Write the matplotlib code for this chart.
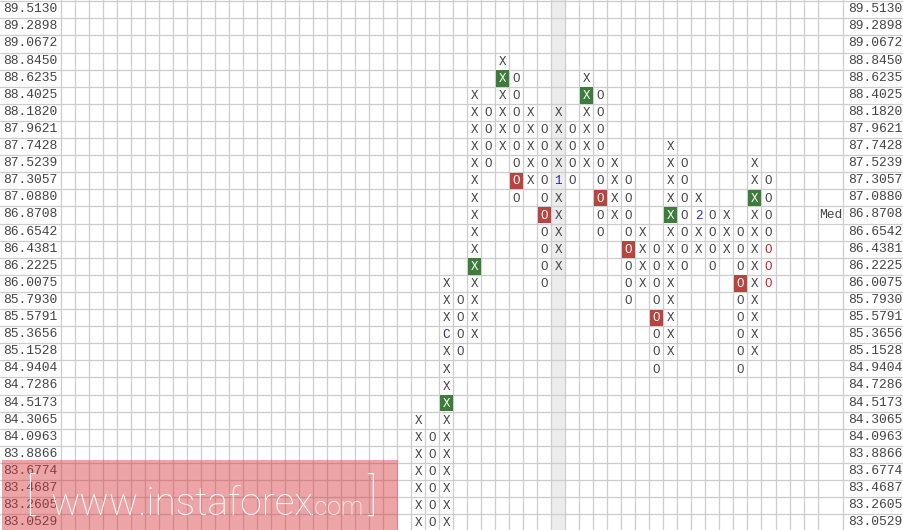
import matplotlib
matplotlib.use("Agg")
import matplotlib.pyplot as plt
from matplotlib.patches import Rectangle

# ---------------- data ----------------
levels = [89.5130, 89.2898, 89.0672, 88.8450, 88.6235, 88.4025, 88.1820, 87.9621,
          87.7428, 87.5239, 87.3057, 87.0880, 86.8708, 86.6542, 86.4381, 86.2225,
          86.0075, 85.7930, 85.5791, 85.3656, 85.1528, 84.9404, 84.7286, 84.5173,
          84.3065, 84.0963, 83.8866, 83.6774, 83.4687, 83.2605, 83.0529]

col_index = list(range(25, 51))
col_type = ['X', 'O', 'X', 'O', 'X', 'O', 'X', 'O', 'X', 'O', 'X', 'O', 'X',
            'O', 'X', 'O', 'X', 'O', 'X', 'O', 'X', 'O', 'X', 'O', 'X', 'O']
col_top = [84.3065, 84.0963, 86.0075, 85.7930, 88.4025, 88.1820, 88.8450, 88.6235,
           88.1820, 87.9621, 88.1820, 87.9621, 88.6235, 88.4025, 87.5239, 87.3057,
           86.6542, 86.4381, 87.7428, 87.5239, 87.0880, 86.8708, 86.8708, 86.6542,
           87.5239, 87.3057]
col_bottom = [83.0529, 83.0529, 83.0529, 85.1528, 85.3656, 87.5239, 87.7428, 87.0880,
              87.3057, 86.0075, 86.2225, 87.3057, 87.5239, 86.6542, 86.8708, 85.7930,
              86.0075, 84.9404, 85.1528, 86.2225, 86.4381, 86.2225, 86.4381, 84.9404,
              85.1528, 86.0075]

green_boxes = [(27, 84.5173), (29, 86.2225), (31, 88.6235), (37, 88.4025),
               (43, 86.8708), (49, 87.0880)]
red_boxes = [(32, 87.3057), (34, 86.8708), (38, 87.0880), (40, 86.4381),
             (42, 85.5791), (48, 86.0075)]
red_marks = [(50, 86.4381), (50, 86.2225), (50, 86.0075)]
notes = [(27, 85.3656, 'C'), (35, 87.3057, '1'), (45, 86.8708, '2')]
highlight_col = 35
median_level = 86.8708
median_label = 'Med'
watermark_main = 'www.instaforex'
watermark_tail = '.com'

# ---------------- layout ----------------
W, H = 904, 530
CW = 14.01           # column width in px
RH = 17.1            # row height in px
X0 = 61.0            # left edge of grid in px
Y0 = 1.2             # top edge of first row in px
N_COLS = 54
med_right = (843.3 - X0) / CW

FONT = ['Liberation Mono', 'DejaVu Sans Mono']
FS = 9.4
SFS = 9.0
TXT = '#444444'
GRID = '#cdcdcd'
GREEN = '#3c7d3c'
RED = '#b8443f'
BLUE = '#2b2b9e'

fig = plt.figure(figsize=(W / 100, H / 100), dpi=100)
ax = fig.add_axes([0, 0, 1, 1])
xmin, xmax = -X0 / CW, (W - X0) / CW
ymin = -0.5 - Y0 / RH
ymax = ymin + H / RH
ax.set_xlim(xmin, xmax)
ax.set_ylim(ymax, ymin)
ax.axis('off')

row_of = {v: i for i, v in enumerate(levels)}

# highlighted column
ax.add_patch(Rectangle((highlight_col, ymin), 1, ymax - ymin,
                       facecolor='#ececec', edgecolor='none', zorder=0))

# grid
for r in range(len(levels) + 1):
    ax.axhline(r - 0.5, color=GRID, lw=0.9, zorder=1)
for k in range(N_COLS + 1):
    ax.axvline(k, color=GRID, lw=0.9, zorder=1)
ax.axvline(med_right, color=GRID, lw=0.9, zorder=1)

# price labels
for i, v in enumerate(levels):
    ax.text(xmin + 3 / CW, i - 0.03, f'{v:.4f}', ha='left', va='center',
            family=FONT, fontsize=FS, color=TXT, zorder=3)
    ax.text(med_right + 4.5 / CW, i - 0.03, f'{v:.4f}', ha='left', va='center',
            family=FONT, fontsize=FS, color=TXT, zorder=3)

ax.text(med_right - 0.8 / CW, row_of[median_level], median_label, ha='right',
        va='center', family=FONT, fontsize=FS, color=TXT, zorder=3)

green_set = set(green_boxes)
red_set = set(red_boxes)
red_mark_set = set(red_marks)
note_map = {(c, p): t for c, p, t in notes}

for c, t, top, bot in zip(col_index, col_type, col_top, col_bottom):
    for r in range(row_of[top], row_of[bot] + 1):
        key = (c, levels[r])
        sym, color = t, TXT
        if key in note_map:
            sym, color = note_map[key], BLUE
        elif key in green_set or key in red_set:
            ax.add_patch(Rectangle((c + 0.04, r - 0.47), 0.94, 0.96,
                                   facecolor=GREEN if key in green_set else RED,
                                   edgecolor='none', zorder=2))
            color = 'white'
        elif key in red_mark_set:
            color = '#cc2222'
        ax.text(c + 0.5, r + 0.04, sym, ha='center', va='center', family=FONT,
                fontsize=SFS, color=color, zorder=3)

# watermark
fig.patches.append(Rectangle((2 / W, 0), 396 / W, 70 / H, transform=fig.transFigure,
                             facecolor=(213 / 255, 53 / 255, 59 / 255), alpha=0.45,
                             edgecolor='none', zorder=5))
WM_FONT = ['Roboto', 'Open Sans', 'DejaVu Sans']
fig.text(25 / W, 1 - 497 / H, '[', ha='left', va='center', fontsize=32,
         family=WM_FONT, color='white', zorder=6, fontweight='light')
fig.text(50 / W, 1 - 515 / H, watermark_main, ha='left', va='baseline',
         fontsize=28, family=WM_FONT, color='white', zorder=6, fontweight='light')
fig.text(309 / W, 1 - 515 / H, watermark_tail, ha='left', va='baseline',
         fontsize=18, family=WM_FONT, color='white', zorder=6, fontweight='light')
fig.text(367 / W, 1 - 497 / H, ']', ha='left', va='center', fontsize=32,
         family=WM_FONT, color='white', zorder=6, fontweight='light')

fig.savefig('out.png', dpi=100)
